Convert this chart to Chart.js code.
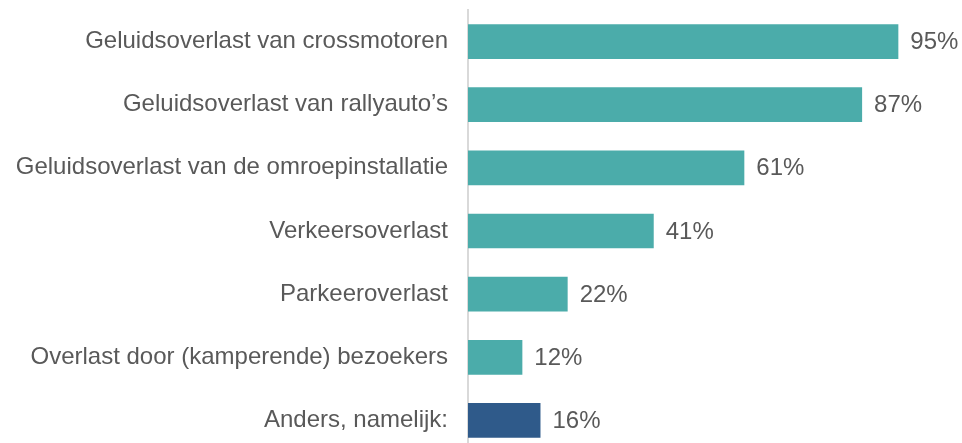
<!DOCTYPE html>
<html>
<head>
<meta charset="utf-8">
<script src="https://cdn.jsdelivr.net/npm/chart.js@4"></script>
<style>
  html, body { margin: 0; padding: 0; background: #fff; overflow: hidden; }
  #wrap { width: 962px; height: 452px; }
</style>
</head>
<body>
<div id="wrap"><canvas id="myChart" width="962" height="452"></canvas></div>
<script>
var categorieen = ['Geluidsoverlast van crossmotoren', 'Geluidsoverlast van rallyauto\u2019s', 'Geluidsoverlast van de omroepinstallatie', 'Verkeersoverlast', 'Parkeeroverlast', 'Overlast door (kamperende) bezoekers', 'Anders, namelijk:'];
var percentages = [95, 87, 61, 41, 22, 12, 16];
var kleuren = ['#4BACAA', '#4BACAA', '#4BACAA', '#4BACAA', '#4BACAA', '#4BACAA', '#2F5A8A'];

// draw the % next to each bar
var labelPlugin = {
    id: 'balkLabels',
    afterDatasetsDraw: function(chart) {
        var ctx = chart.ctx;
        var meta = chart.getDatasetMeta(0);
        ctx.save();
        ctx.font = '24px "Liberation Sans", Arial, sans-serif';
        ctx.fillStyle = '#595959';
        ctx.textAlign = 'left';
        ctx.textBaseline = 'middle';
        meta.data.forEach(function(bar, i) {
            ctx.fillText(percentages[i] + '%', bar.x + 12, bar.y + 1);
        });
        ctx.restore();
    }
};

var config = {
    type: 'bar',
    data: {
        labels: categorieen,
        datasets: [{
            data: percentages,
            backgroundColor: kleuren,
            barPercentage: 0.55,
            categoryPercentage: 1
        }]
    },
    options: {
        indexAxis: 'y',
        responsive: false,
        animation: false,
        layout: { padding: { top: 10, right: 41, bottom: 0, left: 0 } },
        scales: {
            x: {
                display: false,
                min: 0,
                max: 100
            },
            y: {
                grid: { display: false },
                border: { display: true, color: '#D9D9D9', width: 2 },
                ticks: {
                    color: '#595959',
                    padding: 12,
                    font: { family: '"Liberation Sans", Arial, sans-serif', size: 24 }
                },
                afterFit: function(scale) {
                    scale.width = 468;
                    scale.paddingTop = 0;
                    scale.paddingBottom = 0;
                }
            }
        },
        plugins: {
            legend: { display: false },
            tooltip: { enabled: false }
        }
    },
    plugins: [labelPlugin]
};

var ctx = document.getElementById('myChart').getContext('2d');
var myChart = new Chart(ctx, config);
</script>
</body>
</html>
